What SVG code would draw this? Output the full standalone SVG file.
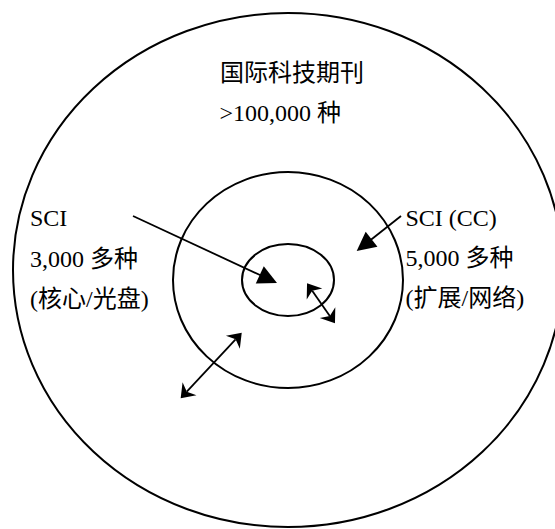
<svg xmlns="http://www.w3.org/2000/svg" width="555" height="529" viewBox="0 0 555 529">
<style>
.ring{fill:none;stroke:#000;stroke-width:2}
.t{font-family:"Liberation Serif","Noto Sans CJK SC",serif;font-size:24px;fill:#000}
.c{stroke:#000;stroke-width:1.8;fill:none}
.big{marker-end:url(#tri)}
.dbl{marker-start:url(#stealth);marker-end:url(#stealth)}
</style>
<defs>
<marker id="tri" markerUnits="userSpaceOnUse" orient="auto" refX="2" refY="0" markerWidth="20" markerHeight="20" overflow="visible">
<path d="M0,-9.5 L19,0 L0,9.5 Z" fill="#000"/>
</marker>
<marker id="stealth" markerUnits="userSpaceOnUse" orient="auto-start-reverse" refX="-9" refY="0" markerWidth="14" markerHeight="20" overflow="visible">
<path d="M0,0 L-13,-9.5 L-9,0 L-13,9.5 Z" fill="#000"/>
</marker>
</defs>
<rect width="555" height="529" fill="#fff"/>
<g id="outer">
<ellipse class="ring" cx="288" cy="270" rx="275" ry="257"/>
<text class="t" x="220" y="81">国际科技期刊</text>
<text class="t" x="219.5" y="121">&gt;100,000 种</text>
</g>
<g id="middle">
<ellipse class="ring" cx="288" cy="280" rx="115" ry="108"/>
</g>
<g id="inner">
<ellipse class="ring" cx="288" cy="280" rx="46" ry="36"/>
</g>
<g id="sci">
<text class="t" x="30" y="226">SCI</text>
<text class="t" x="30" y="267">3,000 多种</text>
<text class="t" x="30" y="307">(核心/光盘)</text>
</g>
<g id="scicc">
<text class="t" x="405.5" y="226">SCI (CC)</text>
<text class="t" x="405.5" y="266">5,000 多种</text>
<text class="t" x="405.5" y="306">(扩展/网络)</text>
</g>
<g id="connectors">
<path class="c big" d="M133,216 L261.6,275.8"/>
<path class="c big" d="M401,216 L370,240.5"/>
<path class="c dbl" d="M312.2,290.7 L329.8,315.9"/>
<path class="c dbl" d="M235.6,339.3 L186.8,391.7"/>
</g>
</svg>
